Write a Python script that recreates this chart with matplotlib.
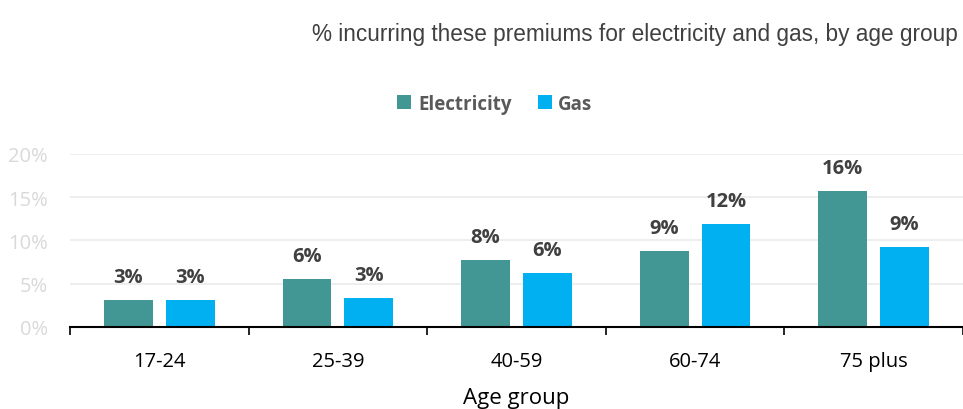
import numpy as np
import matplotlib.pyplot as plt

age_groups = ["17-24", "25-39", "40-59", "60-74", "75 plus"]
electricity = [3.1, 5.6, 7.7, 8.8, 15.7]
gas = [3.1, 3.4, 6.2, 11.9, 9.2]
elec_labels = ["3%", "6%", "8%", "9%", "16%"]
gas_labels = ["3%", "3%", "6%", "12%", "9%"]
y_ticks = [0, 5, 10, 15, 20]

plt.rcParams["font.family"] = ["Open Sans", "DejaVu Sans"]

fig = plt.figure(figsize=(9.63, 4.10), dpi=100)
ax = fig.add_axes([0.0727, 0.2, 0.9273, 0.422])

x = np.arange(len(age_groups))
w = 0.274
off = 0.173
b1 = ax.bar(x - off, electricity, w, color="#429693", label="Electricity")
b2 = ax.bar(x + off, gas, w, color="#00B0F0", label="Gas")

for bars, labels in ((b1, elec_labels), (b2, gas_labels)):
    for bar, lab in zip(bars, labels):
        ax.text(bar.get_x() + bar.get_width() / 2, bar.get_height() + 1.5, lab,
                ha="center", va="bottom", fontsize=14.5, fontweight="bold",
                color="#404040", clip_on=False)

ax.set_xlim(-0.5, len(age_groups) - 0.5)
ax.set_ylim(0, 20)
ax.set_yticks(y_ticks)
ax.set_yticklabels([f"{t}%" for t in y_ticks])
ax.tick_params(axis="y", length=0, pad=16, labelsize=14.5, labelcolor="#d9d9d9")
ax.grid(axis="y", color="#ebebeb", linewidth=1.2)
ax.set_axisbelow(True)

ax.set_xticks(x)
ax.set_xticklabels(age_groups)
ax.set_xticks(np.arange(len(age_groups) + 1) - 0.5, minor=True)
ax.tick_params(axis="x", which="major", length=0, pad=17, labelsize=14.5,
               labelcolor="#000000")
ax.tick_params(axis="x", which="minor", length=6, width=1.2, color="black",
               direction="out")

for s in ["top", "right", "left"]:
    ax.spines[s].set_visible(False)
ax.spines["bottom"].set_linewidth(1.5)
ax.spines["bottom"].set_color("black")

ax.set_xlabel("Age group", fontsize=16, labelpad=12, color="#000000")

fig.text(0.995, 0.915, "% incurring these premiums for electricity and gas, by age group",
         ha="right", va="center", fontsize=16.3, color="#404040",
         family=["Liberation Sans", "DejaVu Sans"])

leg = fig.legend(loc="center", bbox_to_anchor=(0.514, 0.745), ncol=2, frameon=False,
                 handlelength=0.75, handleheight=0.75, handletextpad=0.35,
                 columnspacing=1.4, prop={"weight": "bold", "size": 13.5})
for t in leg.get_texts():
    t.set_color("#595959")

fig.savefig("out.png", dpi=100)
